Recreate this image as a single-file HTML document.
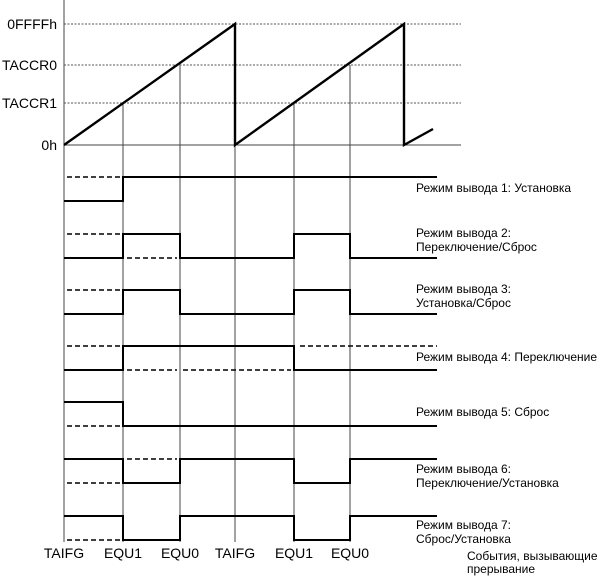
<!DOCTYPE html>
<html><head><meta charset="utf-8"><style>
html,body{margin:0;padding:0;background:#fff}
svg{display:block}
text{font-family:"Liberation Sans",sans-serif;fill:#000}
</style></head><body>
<svg width="600" height="576" viewBox="0 0 600 576" xmlns="http://www.w3.org/2000/svg">
<g stroke="#444" stroke-width="1" fill="none">
<line x1="64" y1="0" x2="64" y2="542"/>
<line x1="123" y1="103" x2="123" y2="542"/>
<line x1="180" y1="65" x2="180" y2="542"/>
<line x1="235" y1="24" x2="235" y2="542"/>
<line x1="294" y1="103" x2="294" y2="542"/>
<line x1="350" y1="65" x2="350" y2="542"/>
<line x1="64" y1="145" x2="461" y2="145"/>
</g>
<g stroke="#555" stroke-width="1" stroke-dasharray="2,1.5" fill="none">
<line x1="64" y1="24" x2="461" y2="24"/>
<line x1="64" y1="65" x2="461" y2="65"/>
<line x1="64" y1="103" x2="461" y2="103"/>
</g>
<polyline points="64,145 235,24 235,145 404,24 404,145 433,129" fill="none" stroke="#000" stroke-width="2.4"/>
<g font-size="14" text-anchor="end">
<text x="57" y="29">0FFFFh</text>
<text x="57" y="70">TACCR0</text>
<text x="57" y="108">TACCR1</text>
<text x="57" y="150">0h</text>
</g>
<g fill="none" stroke="#000" stroke-width="2">
<polyline points="64,201 123,201 123,177 437,177"/>
<polyline points="64,258 123,258 123,234 180,234 180,258 294,258 294,234 350,234 350,258 437,258"/>
<polyline points="64,314 123,314 123,290 180,290 180,314 294,314 294,290 350,290 350,314 437,314"/>
<polyline points="64,370 123,370 123,346 294,346 294,370 437,370"/>
<polyline points="64,402 123,402 123,426 437,426"/>
<polyline points="64,459 123,459 123,483 180,483 180,459 294,459 294,483 350,483 350,459 437,459"/>
<polyline points="64,516 123,516 123,540 180,540 180,516 294,516 294,540 350,540 350,516 437,516"/>
</g>
<g fill="none" stroke="#000" stroke-width="1.5" stroke-dasharray="5,3">
<line x1="67" y1="177" x2="120" y2="177"/>
<line x1="67" y1="234" x2="120" y2="234"/>
<line x1="127" y1="258" x2="177" y2="258"/>
<line x1="67" y1="290" x2="120" y2="290"/>
<line x1="67" y1="346" x2="120" y2="346"/>
<line x1="127" y1="370" x2="177" y2="370"/>
<line x1="183" y1="370" x2="291" y2="370"/>
<line x1="300" y1="346" x2="437" y2="346"/>
<line x1="67" y1="426" x2="120" y2="426"/>
<line x1="67" y1="483" x2="120" y2="483"/>
<line x1="127" y1="459" x2="177" y2="459"/>
<line x1="67" y1="540" x2="120" y2="540"/>
</g>
<g font-size="12">
<text x="416" y="192">Режим вывода 1: Установка</text>
<text x="416" y="237">Режим вывода 2:</text>
<text x="416" y="251">Переключение/Сброс</text>
<text x="416" y="293">Режим вывода 3:</text>
<text x="416" y="307">Установка/Сброс</text>
<text x="416" y="361">Режим вывода 4: Переключение</text>
<text x="416" y="416">Режим вывода 5: Сброс</text>
<text x="416" y="473">Режим вывода 6:</text>
<text x="416" y="487">Переключение/Установка</text>
<text x="416" y="529">Режим вывода 7:</text>
<text x="416" y="543">Сброс/Установка</text>
<text x="467" y="560">События, вызывающие</text>
<text x="467" y="573">прерывание</text>
</g>
<g font-size="14" text-anchor="middle">
<text x="64" y="558">TAIFG</text>
<text x="123" y="558">EQU1</text>
<text x="180" y="558">EQU0</text>
<text x="235" y="558">TAIFG</text>
<text x="294" y="558">EQU1</text>
<text x="350" y="558">EQU0</text>
</g>
</svg>
</body></html>
